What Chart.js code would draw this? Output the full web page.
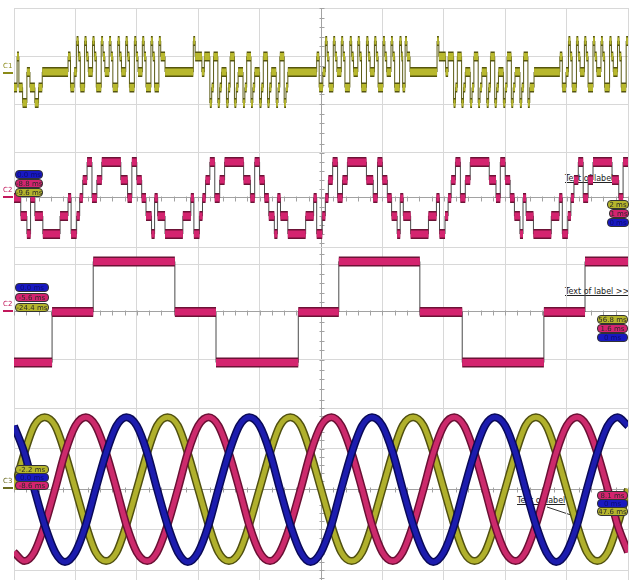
<!DOCTYPE html>
<html>
<head>
<meta charset="utf-8">
<script src="https://cdn.jsdelivr.net/npm/chart.js@4.4.1/dist/chart.umd.min.js"></script>
<style>
  body { margin: 0; background: #fff; }
  #scope { position: relative; width: 629px; height: 580px; overflow: hidden; font-family: "DejaVu Sans", "Liberation Sans", sans-serif; }
  #scope canvas { position: absolute; left: 0; z-index: 1; }
  .ch { position: absolute; left: 3px; font-size: 7px; line-height: 7px; z-index: 2; }
  .ch::after { content: ""; position: absolute; left: 0; top: 9px; width: 10px; height: 2px; background: currentColor; }
  .tag { position: absolute; height: 9px; border-radius: 4px; font-size: 7px; line-height: 8px; text-align: center;
         color: #2a2a2a; border: 1px solid #333; box-sizing: border-box; z-index: 2; white-space: nowrap; overflow: hidden; }
  .ol { background: #b5b52c; }
  .pk { background: #d4246f; }
  .bl { background: #1818c0; color: #0c0c70; }
  .note { position: absolute; font-size: 8px; line-height: 9px; text-decoration: underline; color: #222; white-space: nowrap; z-index: 0; }
  #lead { position: absolute; left: 0; top: 0; z-index: 0; }
</style>
</head>
<body>
<div id="scope">
  <canvas id="p1" width="629" height="140" style="top:0"></canvas>
  <canvas id="p2" width="629" height="110" style="top:140px"></canvas>
  <canvas id="p3" width="629" height="145" style="top:250px"></canvas>
  <canvas id="p4" width="629" height="185" style="top:395px"></canvas>

  <div class="ch" style="top:63px;color:#8a8a18">C1</div>
  <div class="ch" style="top:187px;color:#c2185b">C2</div>
  <div class="ch" style="top:301px;color:#c2185b">C2</div>
  <div class="ch" style="top:478px;color:#6b6b20">C3</div>

  <div class="tag bl" style="left:15px;top:170px;width:28px">0.0 ms</div>
  <div class="tag pk" style="left:15px;top:179px;width:28px">-8.8 ms</div>
  <div class="tag ol" style="left:15px;top:188px;width:28px">-9.6 ms</div>
  <div class="note" style="left:565px;top:174px">Text of label</div>
  <div class="tag ol" style="left:607px;top:200px;width:22px">2 ms</div>
  <div class="tag pk" style="left:609px;top:209px;width:20px">1 ms</div>
  <div class="tag bl" style="left:607px;top:218px;width:22px">0 ms</div>

  <div class="tag bl" style="left:15px;top:283px;width:34px">0.0 ms</div>
  <div class="tag pk" style="left:15px;top:293px;width:34px">-5.6 ms</div>
  <div class="tag ol" style="left:15px;top:303px;width:34px">-24.4 ms</div>
  <div class="note" style="left:565px;top:287px">Text of label &gt;&gt;</div>
  <div class="tag ol" style="left:597px;top:315px;width:31px">56.8 ms</div>
  <div class="tag pk" style="left:597px;top:324px;width:31px">1.6 ms</div>
  <div class="tag bl" style="left:597px;top:333px;width:31px">0 ms</div>

  <div class="tag ol" style="left:15px;top:465px;width:34px">-2.2 ms</div>
  <div class="tag bl" style="left:15px;top:473px;width:34px">0.0 ms</div>
  <div class="tag pk" style="left:15px;top:481px;width:34px">-8.6 ms</div>
  <div class="note" style="left:517px;top:496px">Text of label</div>
  <svg id="lead" width="629" height="580"><line x1="547" y1="507" x2="577" y2="517" stroke="#333" stroke-width="1"/></svg>
  <div class="tag pk" style="left:597px;top:491px;width:31px">8.1 ms</div>
  <div class="tag bl" style="left:597px;top:499px;width:31px">0 ms</div>
  <div class="tag ol" style="left:597px;top:507px;width:31px">47.6 ms</div>
</div>
<script>
// time runs over 10 screen divisions; each step is [start time, level]

// C1: staircase PWM output, levels -2..2
const c1Steps = [
  [0.00,-1],[0.05,1],[0.08,-1],[0.14,-2],[0.21,0],[0.26,-1],[0.34,-2],[0.40,-1],
  [0.46,0],
  [0.88,1],[0.92,-1],[0.98,0],[1.02,2],[1.05,1],[1.08,-1],[1.15,2],[1.18,1],[1.21,0],[1.28,2],[1.31,1],[1.34,-1],
  [1.42,2],[1.45,1],[1.48,0],[1.55,2],[1.58,1],[1.61,-1],[1.69,2],[1.72,1],[1.75,0],[1.82,2],[1.85,1],[1.88,-1],
  [1.96,2],[1.99,1],[2.02,0],[2.09,2],[2.12,1],[2.15,-1],[2.23,2],[2.26,1],[2.29,-1],[2.36,2],[2.39,1],
  [2.46,0],
  [2.92,2],[2.95,1],[3.06,0],[3.10,1],[3.19,-2],[3.22,-1],[3.25,1],[3.32,-2],[3.35,-1],[3.38,0],[3.46,-2],[3.49,-1],
  [3.52,1],[3.59,-2],[3.62,-1],[3.65,0],[3.73,-2],[3.76,-1],[3.79,1],[3.86,-2],[3.89,-1],[3.92,0],[4.00,-2],[4.03,-1],
  [4.06,1],[4.13,-2],[4.16,-1],[4.19,0],[4.27,-2],[4.30,-1],[4.33,1],[4.40,-2],[4.43,-1],
  [4.46,0],
  [4.93,1],[4.97,-1],[5.03,0],[5.07,2],[5.10,1],[5.13,-1],[5.20,2],[5.23,1],[5.26,0],[5.33,2],[5.36,1],[5.39,-1],
  [5.47,2],[5.50,1],[5.53,0],[5.60,2],[5.63,1],[5.66,-1],[5.74,2],[5.77,1],[5.80,0],[5.87,2],[5.90,1],[5.93,-1],
  [6.01,2],[6.04,1],[6.07,0],[6.14,2],[6.17,1],[6.20,-1],[6.28,2],[6.31,1],[6.33,-1],[6.37,2],[6.40,1],
  [6.45,0],
  [6.89,2],[6.92,1],[7.03,0],[7.07,1],[7.16,-2],[7.19,-1],[7.22,1],[7.29,-2],[7.32,-1],[7.35,0],[7.43,-2],[7.46,-1],
  [7.49,1],[7.56,-2],[7.59,-1],[7.62,0],[7.70,-2],[7.73,-1],[7.76,1],[7.83,-2],[7.86,-1],[7.89,0],[7.97,-2],[8.00,-1],
  [8.03,1],[8.10,-2],[8.13,-1],[8.16,0],[8.24,-2],[8.27,-1],[8.30,1],[8.37,-2],[8.40,-1],
  [8.47,0],
  [8.89,1],[8.93,-1],[8.99,0],[9.03,2],[9.06,1],[9.09,-1],[9.16,2],[9.19,1],[9.22,0],[9.29,2],[9.32,1],[9.35,-1],
  [9.43,2],[9.46,1],[9.49,0],[9.56,2],[9.59,1],[9.62,-1],[9.70,2],[9.73,1],[9.76,0],[9.83,2],[9.86,1],[9.89,-1],
  [9.97,2]
];

// C2 (upper): five-level stepped sine
const c2Steps = [
  [0.00,0],[0.11,-1],[0.21,-2],[0.27,0],[0.34,-1],[0.47,-2],
  [0.75,-1],[0.88,0],[0.93,-2],[1.02,-1],[1.07,0],[1.12,1],[1.19,2],[1.27,0],[1.35,1],[1.43,2],
  [1.74,1],[1.85,0],[1.92,2],[2.00,1],[2.08,0],[2.15,-1],[2.24,-2],[2.29,0],[2.34,-1],[2.46,-2],
  [2.75,-1],[2.88,0],[2.93,-2],[3.02,-1],[3.07,0],[3.12,1],[3.19,2],[3.27,0],[3.35,1],[3.43,2],
  [3.74,1],[3.85,0],[3.92,2],[4.00,1],[4.08,0],[4.15,-1],[4.24,-2],[4.29,0],[4.34,-1],[4.46,-2],
  [4.75,-1],[4.88,0],[4.93,-2],[5.02,-1],[5.07,0],[5.12,1],[5.19,2],[5.27,0],[5.35,1],[5.43,2],
  [5.74,1],[5.85,0],[5.92,2],[6.00,1],[6.08,0],[6.15,-1],[6.24,-2],[6.29,0],[6.34,-1],[6.46,-2],
  [6.75,-1],[6.88,0],[6.93,-2],[7.02,-1],[7.07,0],[7.12,1],[7.19,2],[7.27,0],[7.35,1],[7.43,2],
  [7.74,1],[7.85,0],[7.92,2],[8.00,1],[8.08,0],[8.15,-1],[8.24,-2],[8.29,0],[8.34,-1],[8.46,-2],
  [8.75,-1],[8.88,0],[8.93,-2],[9.02,-1],[9.07,0],[9.12,1],[9.19,2],[9.27,0],[9.35,1],[9.43,2],
  [9.74,1],[9.85,0],[9.92,2]
];

// C2 (lower): three-level quasi square wave
const c2bSteps = [
  [0.00,-1],[0.62,0],[1.29,1],[2.62,0],[3.29,-1],[4.63,0],[5.29,1],[6.61,0],[7.30,-1],[8.63,0],[9.30,1]
];

// three phase currents, in screen divisions
const sineTimes = [
  0,0.17,0.33,0.5,0.67,0.83,1,1.17,1.33,1.5,1.67,1.83,
  2,2.17,2.33,2.5,2.67,2.83,3,3.17,3.33,3.5,3.67,3.83,
  4,4.17,4.33,4.5,4.67,4.83,5,5.17,5.33,5.5,5.67,5.83,
  6,6.17,6.33,6.5,6.67,6.83,7,7.17,7.33,7.5,7.67,7.83,
  8,8.17,8.33,8.5,8.67,8.83,9,9.17,9.33,9.5,9.67,9.83,10
];
const oliveWave = [
  0,0.89,1.56,1.77,1.56,0.89,0,-0.89,-1.56,-1.78,-1.56,-0.89,
  0,0.89,1.56,1.77,1.56,0.89,0,-0.89,-1.56,-1.78,-1.56,-0.89,
  0,0.89,1.56,1.77,1.56,0.89,0,-0.89,-1.56,-1.78,-1.56,-0.89,
  0,0.89,1.56,1.77,1.56,0.89,0,-0.89,-1.56,-1.78,-1.56,-0.89,
  0,0.89,1.56,1.77,1.56,0.89,0,-0.89,-1.56,-1.78,-1.56,-0.89,0
];
const pinkWave = [
  -1.56,-1.78,-1.56,-0.89,0,0.89,1.56,1.77,1.56,0.89,0,-0.89,
  -1.56,-1.78,-1.56,-0.89,0,0.89,1.56,1.77,1.56,0.89,0,-0.89,
  -1.56,-1.78,-1.56,-0.89,0,0.89,1.56,1.77,1.56,0.89,0,-0.89,
  -1.56,-1.78,-1.56,-0.89,0,0.89,1.56,1.77,1.56,0.89,0,-0.89,
  -1.56,-1.78,-1.56,-0.89,0,0.89,1.56,1.77,1.56,0.89,0,-0.89,-1.56
];
const blueWave = [
  1.56,0.89,0,-0.89,-1.56,-1.8,-1.56,-0.89,0,0.89,1.56,1.77,
  1.56,0.89,0,-0.89,-1.56,-1.8,-1.56,-0.89,0,0.89,1.56,1.77,
  1.56,0.89,0,-0.89,-1.56,-1.8,-1.56,-0.89,0,0.89,1.56,1.77,
  1.56,0.89,0,-0.89,-1.56,-1.8,-1.56,-0.89,0,0.89,1.56,1.77,
  1.56,0.89,0,-0.89,-1.56,-1.8,-1.56,-0.89,0,0.89,1.56,1.77,1.56
];

const gridGrey = '#d8d8d8';
const axisGrey = '#a2a2a2';

// minor ticks on the centre lines, like the scope graticule
const centreMarks = {
  id: 'centreMarks',
  beforeDatasetsDraw(chart, args, opts) {
    const { ctx, chartArea: a, scales: { x, y } } = chart;
    const cx = Math.round(x.getPixelForValue(5)) + 0.5;
    const xStep = (x.getPixelForValue(1) - x.getPixelForValue(0)) / 5;
    const g0 = y.getPixelForValue(y.ticks[0].value);
    const yStep = Math.abs(y.getPixelForValue(y.ticks[1].value) - g0) / 5;
    ctx.save();
    ctx.strokeStyle = axisGrey;
    ctx.lineWidth = 1;
    ctx.beginPath();
    let py = g0;
    while (py - yStep >= a.top) py -= yStep;
    for (; py <= a.bottom; py += yStep) {
      const p = Math.round(py) + 0.5;
      ctx.moveTo(cx - 2, p); ctx.lineTo(cx + 3, p);
    }
    if (opts.zero) {
      const zy = Math.round(y.getPixelForValue(0)) + 0.5;
      for (let px = a.left; px <= a.right + 1; px += xStep) {
        const p = Math.round(px) + 0.5;
        ctx.moveTo(p, zy - 2); ctx.lineTo(p, zy + 3);
      }
    }
    ctx.stroke();
    ctx.restore();
  }
};

function stepDatasets(steps, fill, edge, thin, bandW) {
  const line = steps.map(s => ({ x: s[0], y: s[1] }));
  line.push({ x: 10, y: steps[steps.length - 1][1] });
  const runs = [];
  steps.forEach((s, i) => {
    const end = i + 1 < steps.length ? steps[i + 1][0] : 10;
    runs.push({ x: s[0], y: s[1] }, { x: end, y: s[1] }, { x: end, y: null });
  });
  return [
    { data: runs, borderColor: fill, borderWidth: bandW, borderCapStyle: 'butt', order: 2 },
    { data: runs, borderColor: edge, borderWidth: bandW + 3, borderCapStyle: 'butt', order: 3 },
    { data: line, stepped: true, borderColor: thin, borderWidth: 1, order: 4 }
  ];
}

function sineDatasets(values, fill, edge, order) {
  const pts = sineTimes.map((t, i) => ({ x: t, y: values[i] }));
  return [
    { data: pts, borderColor: fill, borderWidth: 5, cubicInterpolationMode: 'monotone', order: order },
    { data: pts, borderColor: edge, borderWidth: 8, cubicInterpolationMode: 'monotone', order: order + 1 }
  ];
}

// zeroPx / gridPx measured from the top of the plot area, pxPerUnit = size of one level
function makePanel(id, padTop, zeroPx, pxPerUnit, gridPx, zeroLine, datasets) {
  const canvas = document.getElementById(id);
  const h = canvas.height - padTop;
  const gridVals = gridPx.map(g => (zeroPx - g) / pxPerUnit);
  return new Chart(canvas, {
    type: 'line',
    data: { datasets: datasets },
    options: {
      responsive: false,
      animation: false,
      devicePixelRatio: 1,
      layout: { autoPadding: false, padding: { left: 14, right: 1, top: padTop, bottom: 0 } },
      elements: { point: { radius: 0 }, line: { fill: false } },
      plugins: { legend: { display: false }, tooltip: { enabled: false }, centreMarks: { zero: zeroLine } },
      scales: {
        x: {
          type: 'linear', min: 0, max: 10,
          ticks: { display: false, stepSize: 1 },
          grid: { drawTicks: false, color: c => (c.tick && c.tick.value === 5) ? axisGrey : gridGrey },
          border: { display: false }
        },
        y: {
          min: -(h - zeroPx) / pxPerUnit,
          max: zeroPx / pxPerUnit,
          ticks: { display: false },
          afterBuildTicks: s => { s.ticks = gridVals.map(v => ({ value: v })); },
          grid: { drawTicks: false, color: c => (zeroLine && c.tick && c.tick.value === 0) ? axisGrey : gridGrey },
          border: { display: false }
        }
      }
    },
    plugins: [centreMarks]
  });
}

makePanel('p1', 8, 64, 15.5, [0, 48, 96], false,
  stepDatasets(c1Steps, '#b8b82e', '#55550e', '#5a5a14', 7));
makePanel('p2', 0, 58, 18, [13, 58, 107], true,
  stepDatasets(c2Steps, '#d4246f', '#6d1236', '#4a4a4a', 7));
makePanel('p3', 0, 62, 50.5, [14, 62, 109], true,
  stepDatasets(c2bSteps, '#d4246f', '#6d1236', '#4a4a4a', 7));
makePanel('p4', 0, 94, 40.5, [13, 53.5, 94, 134.5, 175], true,
  [].concat(
    sineDatasets(blueWave, '#1c1cae', '#0a0a58', 1),
    sineDatasets(pinkWave, '#cc2a6c', '#6a1034', 3),
    sineDatasets(oliveWave, '#b0b02c', '#505010', 5)
  ));
</script>
</body>
</html>
